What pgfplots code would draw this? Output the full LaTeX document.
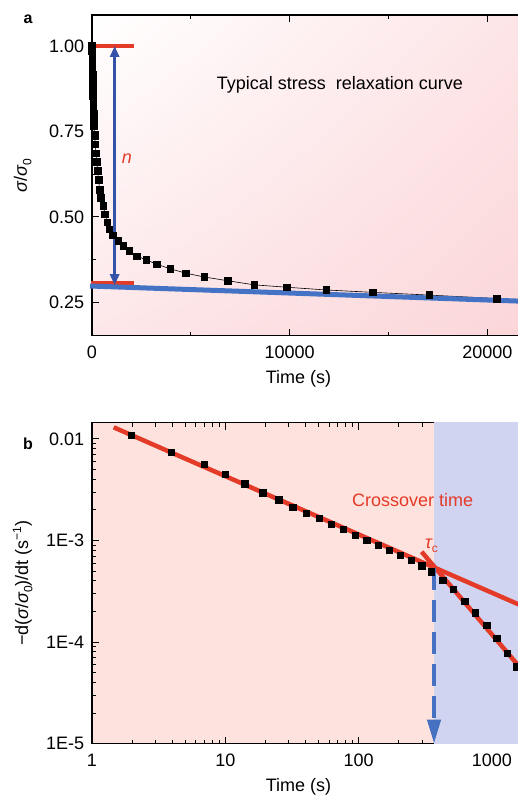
\documentclass[border=0pt]{standalone}
\usepackage{pgfplots}
\pgfplotsset{compat=1.18}
\usepackage{fontspec}
\setmainfont{Liberation Sans}
\usetikzlibrary{arrows.meta,shadings}
\definecolor{fitred}{RGB}{228,58,40}
\definecolor{fitblue}{RGB}{68,114,196}
\definecolor{arrblue}{RGB}{52,82,168}
\definecolor{dashblue}{RGB}{70,112,192}
\definecolor{pinkbg}{RGB}{253,226,221}
\definecolor{bluebg}{RGB}{209,212,240}
\definecolor{pinkur}{RGB}{253,229,231}
\definecolor{pinkll}{RGB}{253,231,233}
\definecolor{pinklr}{RGB}{251,214,217}
\newcommand{\sub}[1]{\raisebox{-0.45ex}{\fontsize{12bp}{12bp}\selectfont #1}}
\newcommand{\sups}[1]{\raisebox{0.75ex}{\fontsize{12bp}{12bp}\selectfont #1}}
\pgfplotsset{
  panel/.style={scale only axis, width=428bp, tick align=inside, ytick pos=left,
    major tick length=7bp, minor tick length=4bp,
    axis line style={line width=1.2bp}, every tick/.style={black,line width=1bp},
    tick label style={font=\fontsize{18bp}{21bp}\selectfont},
    yticklabel style={xshift=-4.3bp}, xticklabel style={yshift=-7bp},
    every axis y label/.style={at={(axis description cs:-0.162,0.5)},anchor=center,rotate=90,
      font=\fontsize{18bp}{21bp}\selectfont},
    every axis x label/.style={at={(axis description cs:0.4825,0)},anchor=north,yshift=-31bp,
      font=\fontsize{18bp}{21bp}\selectfont},
    scaled ticks=false},
}
\begin{document}
\begin{tikzpicture}
\path[use as bounding box, clip] (0,0) rectangle (518bp,798bp);

% panel a
\begin{axis}[panel, at={(92bp,462.3bp)}, anchor=south west, height=320.7bp,
  xmin=0, xmax=21650, ymin=0.1522, ymax=1.0907, clip=false,
  xtick={0,10000,20000}, xticklabels={0,10000,20000}, minor xtick={5000,15000},
  ytick={0.25,0.5,0.75,1}, yticklabels={0.25,0.50,0.75,1.00},
  minor ytick={0.375,0.625,0.875},
  axis background/.style={shade, upper left=white, upper right=pinkur,
    lower left=pinkll, lower right=pinklr},
  xlabel={Time (s)}, ylabel={{\itshape σ}/{\itshape σ}\sub{0}}]
\addplot[black, line width=0.6bp, mark=square*, mark size=3.3bp] coordinates {
(0,1.000) (5,0.985) (10,0.970) (15,0.956) (20,0.942) (25,0.928) (30,0.915)
(35,0.902) (40,0.890) (45,0.878) (50,0.866) (55,0.855) (60,0.844) (65,0.833)
(70,0.823) (75,0.813) (80,0.803) (85,0.794) (90,0.785) (95,0.776) (100,0.767)
(130,0.738) (165,0.712) (200,0.686) (240,0.661) (285,0.635) (330,0.608)
(388,0.580) (455,0.555) (573,0.532) (658,0.508) (775,0.484) (876,0.463)
(1062,0.446) (1332,0.430) (1585,0.415) (1888,0.400) (2276,0.385) (2750,0.374)
(3288,0.361) (3960,0.348) (4755,0.335) (5680,0.324) (6860,0.313) (8210,0.301)
(9850,0.294) (11850,0.286) (14210,0.279) (17060,0.271) (20470,0.261)};
\addplot[fitred, line width=4bp] coordinates {(-100,1.0) (2125,1.0)};
\addplot[fitred, line width=4bp] coordinates {(-50,0.305) (2140,0.305)};
\addplot[fitblue, line width=5bp] coordinates {(-100,0.2976) (21650,0.2533)};
\addplot[arrblue, line width=3.5bp,
  {Triangle[width=9bp,length=11bp]}-{Triangle[width=9bp,length=11bp]}]
  coordinates {(1145,0.300) (1145,1.0)};
\node[fitred, font=\fontsize{18bp}{21bp}\selectfont\itshape] at (axis cs:1770,0.669) {n};
\node[anchor=base, font=\fontsize{18bp}{21bp}\selectfont] at (axis cs:12544,0.874)
  {Typical stress\ \ relaxation curve};
\end{axis}

% panel b
\begin{axis}[panel, at={(92bp,54.3bp)}, anchor=south west, height=321bp,
  xmode=log, ymode=log, xmin=1, xmax=1625, ymin=1e-5, ymax=0.01447,
  xtick={1,10,100,1000}, xticklabels={1,10,100,1000},
  ytick={1e-5,1e-4,1e-3,1e-2}, yticklabels={1E-5,1E-4,1E-3,0.01},
  axis background/.style={fill=pinkbg},
  xlabel={Time (s)},
  ylabel={−d({\itshape σ}/{\itshape σ}\sub{0})/dt (s\sups{−1})}]
\addplot[fill=bluebg, draw=none] coordinates {(368,1e-6) (3000,1e-6) (3000,0.1) (368,0.1)};
\addplot[only marks, black, mark=square*, mark size=3.2bp] coordinates {
(1.96,0.01094) (3.91,0.00740) (6.96,0.00568) (9.95,0.00449) (13.98,0.00363)
(19.08,0.00296) (25.2,0.00253) (32.0,0.00213) (40.4,0.00186) (50.7,0.00166)
(62.1,0.00145) (76.8,0.00129) (94.0,0.00113) (115,0.00101) (141,0.000904)
(170,0.000806) (205,0.000719) (248,0.000642) (297,0.000565) (349,0.000493)
(428,0.000408) (513,0.000330) (625,0.000253) (751,0.000195) (915,0.000147)
(1087,0.000109) (1305,0.0000774) (1535,0.0000571)};
\addplot[fitred, line width=4.5bp] coordinates {(1.455,0.01303) (1625,0.000232)};
\addplot[fitred, line width=4.5bp] coordinates {(297,0.000776) (1625,0.0000562)};
\addplot[dashblue, line width=4bp, dash pattern=on 22bp off 10bp,
  -{Triangle[width=13bp,length=24bp]}] coordinates {(368,0.00054) (368,1e-5)};
\node[fitred, anchor=base, font=\fontsize{18bp}{21bp}\selectfont] at (axis cs:254.7,0.00215) {Crossover time};
\node[fitred, anchor=base west, inner sep=0pt, font=\fontsize{18bp}{21bp}\selectfont]
  at (axis cs:315,0.000843) {{\itshape τ}\sub{c}};
\end{axis}

\node[font=\fontsize{16bp}{18bp}\selectfont\bfseries] at (28bp,779bp) {a};
\node[font=\fontsize{16bp}{18bp}\selectfont\bfseries] at (28bp,354bp) {b};
\end{tikzpicture}
\end{document}
